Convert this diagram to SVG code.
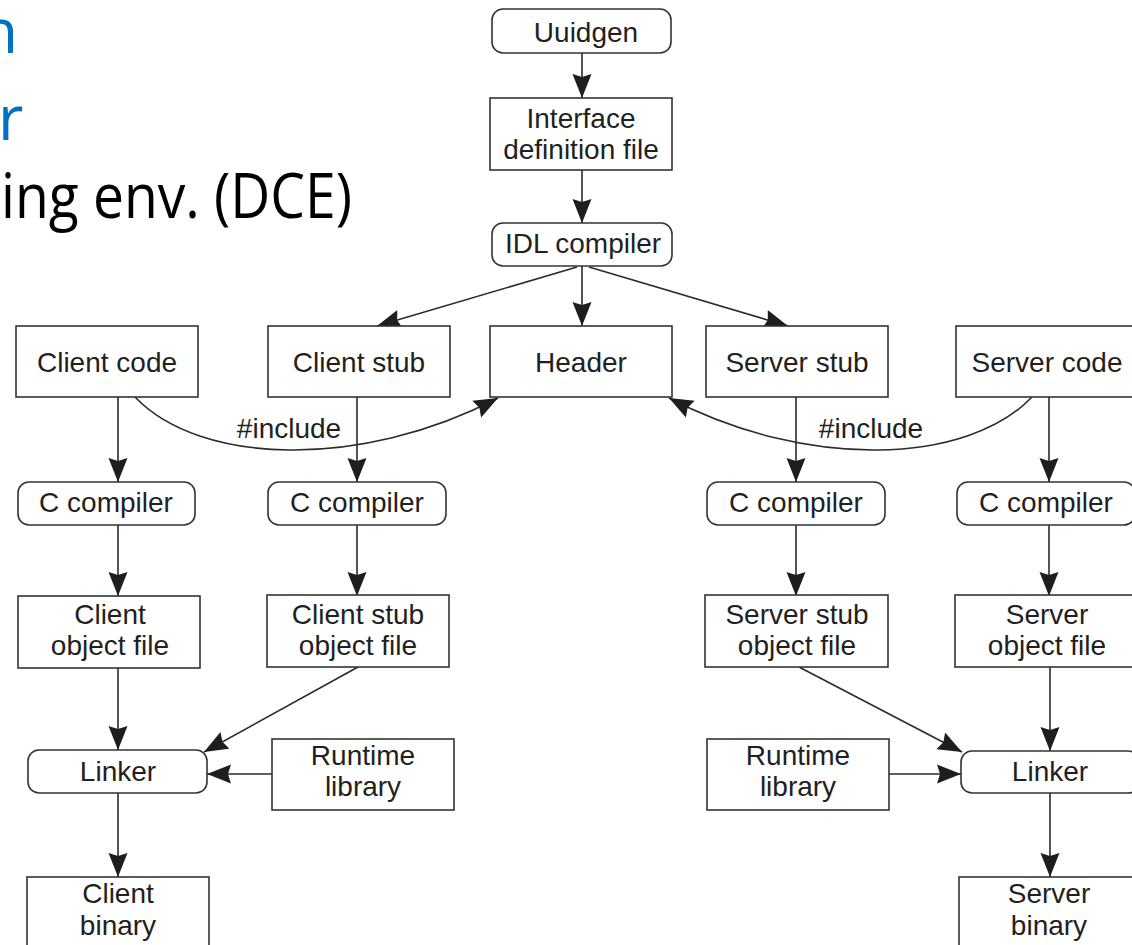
<svg xmlns="http://www.w3.org/2000/svg" width="1132" height="945" viewBox="0 0 1132 945">
  <style>
    .box { fill: #ffffff; stroke: #333333; stroke-width: 1.6; }
    .lbl { font-family: "Liberation Sans", Arial, Helvetica, sans-serif; font-size: 28px; fill: #231f20; text-anchor: middle; }
    .edge { fill: none; stroke: #2a2a2a; stroke-width: 1.6; marker-end: url(#arrow); }
    .slide { font-family: "Open Sans", "Noto Sans", sans-serif; font-size: 62px; }
  </style>
  <defs>
    <marker id="arrow" viewBox="0 0 24 20" refX="24" refY="10" markerWidth="24" markerHeight="20" markerUnits="userSpaceOnUse" orient="auto">
      <path d="M0,0.5 L24,10 L0,19.5 L3,10 Z" fill="#1e1e1e"/>
    </marker>
  </defs>

  <rect width="1132" height="945" fill="#ffffff"/>

  <!-- slide bullet text behind the figure -->
  <g id="slide-text">
    <text class="slide" x="-20" y="53" fill="#0070c0">n</text>
    <text class="slide" x="-2" y="140" fill="#0070c0">r</text>
    <text class="slide" x="1" y="218" fill="#000000" textLength="351" lengthAdjust="spacingAndGlyphs">ing env. (DCE)</text>
  </g>

  <!-- connectors -->
  <g id="connectors">
    <line class="edge" x1="582" y1="53" x2="582" y2="98"/>
    <line class="edge" x1="582" y1="170" x2="582" y2="223"/>
    <line class="edge" x1="577" y1="267" x2="377" y2="326"/>
    <line class="edge" x1="582" y1="266" x2="582" y2="326"/>
    <line class="edge" x1="589" y1="267" x2="788" y2="326"/>

    <line class="edge" x1="118" y1="397" x2="118" y2="482"/>
    <line class="edge" x1="357" y1="397" x2="357" y2="482"/>
    <line class="edge" x1="796" y1="397" x2="796" y2="482"/>
    <line class="edge" x1="1049" y1="397" x2="1049" y2="482"/>

    <line class="edge" x1="118" y1="525" x2="118" y2="596"/>
    <line class="edge" x1="357" y1="525" x2="357" y2="596"/>
    <line class="edge" x1="796" y1="525" x2="796" y2="596"/>
    <line class="edge" x1="1049" y1="525" x2="1049" y2="596"/>

    <line class="edge" x1="118" y1="668" x2="118" y2="750"/>
    <line class="edge" x1="358" y1="667" x2="204" y2="752"/>
    <line class="edge" x1="272" y1="774" x2="207" y2="774"/>
    <line class="edge" x1="118" y1="793" x2="118" y2="877"/>

    <line class="edge" x1="1050" y1="667" x2="1050" y2="751"/>
    <line class="edge" x1="799" y1="667" x2="962" y2="752"/>
    <line class="edge" x1="889" y1="774" x2="961" y2="774"/>
    <line class="edge" x1="1050" y1="793" x2="1050" y2="877"/>

    <path class="edge" d="M135,397 C200,465 360,470 498,398"/>
    <path class="edge" d="M1032,397 C967,465 807,470 669,398"/>
    <text class="lbl" x="289" y="438">#include</text>
    <text class="lbl" x="871" y="438">#include</text>
  </g>

  <g id="uuidgen">
    <rect class="box" x="492" y="9" width="179" height="44" rx="11"/>
    <text class="lbl" x="586" y="42">Uuidgen</text>
  </g>
  <g id="interface-definition-file">
    <rect class="box" x="490" y="98" width="182" height="72"/>
    <text class="lbl" x="581" y="128">Interface</text>
    <text class="lbl" x="581" y="159">definition file</text>
  </g>
  <g id="idl-compiler">
    <rect class="box" x="492" y="223" width="180" height="43" rx="11"/>
    <text class="lbl" x="583" y="253">IDL compiler</text>
  </g>

  <g id="client-code">
    <rect class="box" x="16" y="326" width="182" height="71"/>
    <text class="lbl" x="107" y="372">Client code</text>
  </g>
  <g id="client-stub">
    <rect class="box" x="268" y="326" width="182" height="71"/>
    <text class="lbl" x="359" y="372">Client stub</text>
  </g>
  <g id="header">
    <rect class="box" x="490" y="326" width="182" height="71"/>
    <text class="lbl" x="581" y="372">Header</text>
  </g>
  <g id="server-stub">
    <rect class="box" x="706" y="326" width="182" height="71"/>
    <text class="lbl" x="797" y="372">Server stub</text>
  </g>
  <g id="server-code">
    <rect class="box" x="956" y="326" width="182" height="71"/>
    <text class="lbl" x="1047" y="372">Server code</text>
  </g>

  <g id="client-c-compiler">
    <rect class="box" x="18" y="482" width="177" height="43" rx="11"/>
    <text class="lbl" x="106" y="512">C compiler</text>
  </g>
  <g id="client-stub-c-compiler">
    <rect class="box" x="268" y="482" width="178" height="43" rx="11"/>
    <text class="lbl" x="357" y="512">C compiler</text>
  </g>
  <g id="server-stub-c-compiler">
    <rect class="box" x="707" y="482" width="178" height="43" rx="11"/>
    <text class="lbl" x="796" y="512">C compiler</text>
  </g>
  <g id="server-c-compiler">
    <rect class="box" x="957" y="482" width="178" height="43" rx="11"/>
    <text class="lbl" x="1046" y="512">C compiler</text>
  </g>

  <g id="client-object-file">
    <rect class="box" x="18" y="596" width="182" height="72"/>
    <text class="lbl" x="110" y="624">Client</text>
    <text class="lbl" x="110" y="655">object file</text>
  </g>
  <g id="client-stub-object-file">
    <rect class="box" x="267" y="595" width="182" height="72"/>
    <text class="lbl" x="358" y="624">Client stub</text>
    <text class="lbl" x="358" y="655">object file</text>
  </g>
  <g id="server-stub-object-file">
    <rect class="box" x="705" y="595" width="183" height="72"/>
    <text class="lbl" x="797" y="624">Server stub</text>
    <text class="lbl" x="797" y="655">object file</text>
  </g>
  <g id="server-object-file">
    <rect class="box" x="955" y="595" width="183" height="72"/>
    <text class="lbl" x="1047" y="624">Server</text>
    <text class="lbl" x="1047" y="655">object file</text>
  </g>

  <g id="client-linker">
    <rect class="box" x="28" y="750" width="179" height="43" rx="11"/>
    <text class="lbl" x="118" y="781">Linker</text>
  </g>
  <g id="client-runtime-library">
    <rect class="box" x="272" y="739" width="182" height="71"/>
    <text class="lbl" x="363" y="765">Runtime</text>
    <text class="lbl" x="363" y="796">library</text>
  </g>
  <g id="server-runtime-library">
    <rect class="box" x="707" y="739" width="182" height="71"/>
    <text class="lbl" x="798" y="765">Runtime</text>
    <text class="lbl" x="798" y="796">library</text>
  </g>
  <g id="server-linker">
    <rect class="box" x="961" y="751" width="178" height="42" rx="11"/>
    <text class="lbl" x="1050" y="781">Linker</text>
  </g>

  <g id="client-binary">
    <rect class="box" x="27" y="877" width="182" height="90"/>
    <text class="lbl" x="118" y="903">Client</text>
    <text class="lbl" x="118" y="935">binary</text>
  </g>
  <g id="server-binary">
    <rect class="box" x="959" y="877" width="182" height="90"/>
    <text class="lbl" x="1049" y="903">Server</text>
    <text class="lbl" x="1049" y="935">binary</text>
  </g>
</svg>
